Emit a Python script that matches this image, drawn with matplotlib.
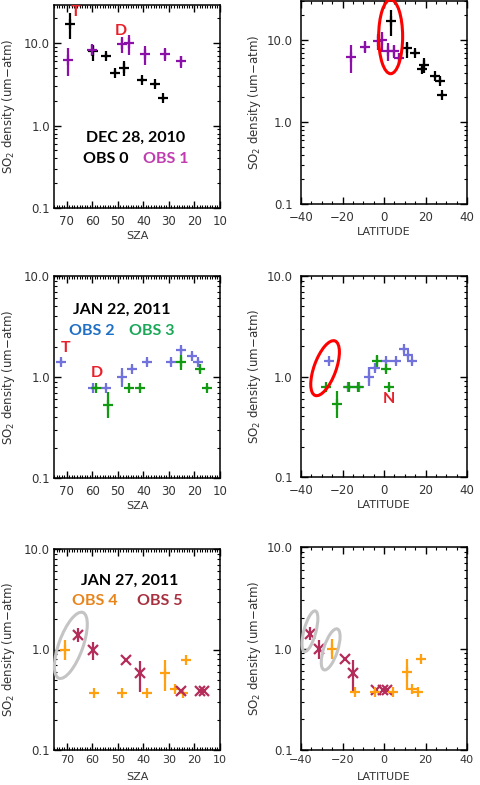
import numpy as np
import matplotlib.pyplot as plt
from matplotlib.patches import Ellipse
from matplotlib.transforms import ScaledTranslation
from matplotlib.ticker import MultipleLocator, FixedLocator, LogLocator, NullFormatter, FormatStrFormatter

# ---- DEC 28, 2010 ----
obs0_sza = [68.9, 59.7, 54.6, 51.1, 47.5, 40.5, 35.6, 32.3]
obs0_lat = [3.4, 11.1, 15.1, 18.4, 19.5, 24.8, 26.9, 28.0]
obs0_so2 = [17.2, 8.0, 7.0, 4.4, 5.0, 3.6, 3.2, 2.15]
obs0_lo = [11.2, 6.0, 6.6, 4.2, 4.0, 3.4, 3.0, 2.05]
obs0_hi = [23.3, 9.6, 7.5, 4.7, 6.0, 3.8, 3.4, 2.25]

obs1_sza = [69.6, 60.0, 48.4, 45.8, 39.5, 31.6, 25.2]
obs1_lat = [-15.8, -9.0, -3.0, -1.0, 1.8, 5.0, 7.0]
obs1_so2 = [6.3, 8.2, 9.8, 10.0, 7.4, 7.4, 6.0]
obs1_lo = [4.0, 7.0, 7.6, 7.2, 5.5, 6.0, 5.0]
obs1_hi = [8.7, 9.8, 12.0, 12.6, 9.1, 8.7, 6.9]

# ---- JAN 22, 2011 ----
obs2_sza = [72.3, 59.7, 54.6, 48.4, 44.4, 38.5, 29.2, 25.2, 21.0, 18.6]
obs2_lat = [-26.7, -17.5, -12.0, -7.1, -4.2, 1.0, 6.0, 9.5, 11.4, 13.5]
obs2_so2 = [1.42, 0.78, 0.78, 1.0, 1.21, 1.42, 1.42, 1.86, 1.63, 1.42]
obs2_lo = [1.34, 0.74, 0.74, 0.80, 1.14, 1.34, 1.34, 1.74, 1.54, 1.34]
obs2_hi = [1.50, 0.82, 0.82, 1.24, 1.28, 1.50, 1.50, 1.98, 1.72, 1.50]

obs3_sza = [58.6, 53.7, 45.8, 41.4, 25.2, 18.0, 14.9]
obs3_lat = [-27.9, -22.7, -17.1, -12.7, -3.4, 1.0, 2.3]
obs3_so2 = [0.78, 0.53, 0.78, 0.78, 1.42, 1.19, 0.78]
obs3_lo = [0.74, 0.39, 0.74, 0.74, 1.18, 1.12, 0.74]
obs3_hi = [0.82, 0.71, 0.82, 0.82, 1.65, 1.26, 0.82]

# ---- JAN 27, 2011 ----
obs4_sza = [70.7, 59.4, 48.4, 38.5, 31.6, 27.6, 24.6, 23.2]
obs4_lat = [-25.1, -13.8, -4.2, 4.3, 11.1, 13.5, 16.3, 17.6]
obs4_so2 = [1.0, 0.37, 0.37, 0.37, 0.59, 0.40, 0.37, 0.79]
obs4_lo = [0.79, 0.37, 0.37, 0.37, 0.39, 0.40, 0.37, 0.79]
obs4_hi = [1.24, 0.37, 0.37, 0.37, 0.78, 0.40, 0.37, 0.79]

obs5_sza = [65.6, 59.7, 46.7, 41.4, 25.2, 18.0, 16.2]
obs5_lat = [-35.9, -31.1, -18.7, -14.7, -3.7, -0.5, 1.4]
obs5_so2 = [1.40, 1.0, 0.79, 0.58, 0.39, 0.39, 0.39]
obs5_lo = [1.20, 0.79, 0.79, 0.38, 0.39, 0.39, 0.39]
obs5_hi = [1.62, 1.20, 0.79, 0.77, 0.39, 0.39, 0.39]

c_black = 'black'
c_purple = '#8a10a8'
c_blue = '#7272dc'
c_green = '#129a12'
c_orange = '#ffa010'
c_maroon = '#b42c5a'

fig = plt.figure(figsize=(4.8, 7.85), dpi=100)


def px_rect(l, t, r, b):
    return [l / 480, 1 - b / 785, (r - l) / 480, (b - t) / 785]


def setup(ax, kind, ytop):
    ax.set_yscale('log')
    ax.set_ylim(0.1, ytop)
    if kind == 'sza':
        ax.set_xlim(75, 10)
        ax.xaxis.set_major_locator(MultipleLocator(10))
        ax.xaxis.set_minor_locator(MultipleLocator(1))
        ax.set_xlabel('SZA', color='#333333', fontsize=8)
    else:
        ax.set_xlim(-40, 40)
        ax.xaxis.set_major_locator(MultipleLocator(20))
        ax.xaxis.set_minor_locator(MultipleLocator(5))
        ax.set_xlabel('LATITUDE', color='#333333', fontsize=8)
    ax.yaxis.set_major_locator(FixedLocator([0.1, 1.0, 10.0]))
    ax.yaxis.set_major_formatter(FormatStrFormatter('%.1f'))
    ax.yaxis.set_minor_locator(LogLocator(base=10, subs=np.arange(2, 10)))
    ax.yaxis.set_minor_formatter(NullFormatter())
    ax.tick_params(which='both', direction='in', top=True, right=True,
                   colors='black', labelcolor='#333333', labelsize=8.5)
    ax.tick_params(which='major', length=5, width=1.0)
    ax.tick_params(which='minor', length=2.5, width=0.8)
    ax.tick_params(axis='x', pad=5)
    ax.tick_params(axis='y', pad=3)
    for s in ax.spines.values():
        s.set_linewidth(1.1)
    ax.set_ylabel(r'SO$_2$ density (um$-$atm)', color='#333333', fontsize=8.5)
    ax.yaxis.set_label_coords(-0.225, 0.5)
    ax.xaxis.set_label_coords(0.5, -0.115)


def plus(ax, x, y, lo, hi, color, marker='+'):
    y = np.array(y)
    yerr = [y - np.array(lo), np.array(hi) - y]
    ax.errorbar(x, y, yerr=yerr, fmt=marker, color=color, ms=7, mew=1.6,
                elinewidth=1.6, capsize=0, clip_on=False)


def ring(ax, x, y, w, h, angle, color):
    tr = fig.dpi_scale_trans + ScaledTranslation(x, y, ax.transData)
    ax.add_patch(Ellipse((0, 0), w, h, angle=angle, transform=tr, fill=False,
                         ec=color, lw=2.2, clip_on=False, zorder=5))


def label(ax, x, y, s, color, size=11.5):
    ax.text(x, y, s, transform=ax.transAxes, color=color, fontsize=size,
            fontweight='bold', family='Lato', ha='center', va='center', clip_on=False)


ax1 = fig.add_axes(px_rect(54, 5, 220, 208))
ax2 = fig.add_axes(px_rect(301, 1, 467, 204))
ax3 = fig.add_axes(px_rect(54, 276, 220, 478))
ax4 = fig.add_axes(px_rect(301, 276, 467, 477))
ax5 = fig.add_axes(px_rect(54, 549, 220, 750))
ax6 = fig.add_axes(px_rect(301, 547, 467, 750))

setup(ax1, 'sza', 29)
setup(ax2, 'lat', 30)
setup(ax3, 'sza', 10)
setup(ax4, 'lat', 10)
setup(ax5, 'sza', 10)
setup(ax6, 'lat', 10)
for ax in (ax2, ax4, ax6):
    ax.yaxis.set_label_coords(-0.23, 0.5)
    ax.tick_params(axis='y', pad=6)
for ax in (ax5, ax6):
    ax.tick_params(axis='x', pad=3.5, labelsize=8)
    ax.xaxis.set_label_coords(0.5, -0.108)

# row 1
plus(ax1, obs0_sza, obs0_so2, obs0_lo, obs0_hi, c_black)
plus(ax1, obs1_sza, obs1_so2, obs1_lo, obs1_hi, c_purple)
plus(ax2, obs1_lat, obs1_so2, obs1_lo, obs1_hi, c_purple)
plus(ax2, obs0_lat, obs0_so2, obs0_lo, obs0_hi, c_black)
label(ax1, 0.494, 0.345, 'DEC 28, 2010', 'black')
label(ax1, 0.313, 0.241, 'OBS 0', 'black')
label(ax1, 0.675, 0.241, 'OBS 1', '#c03cb0')
label(ax1, 0.127, 0.966, 'T', '#e8202a')
label(ax1, 0.404, 0.872, 'D', '#e8202a')
ring(ax2, 3.2, 11.0, 0.24, 0.74, 0, 'red')

# row 2
plus(ax3, obs2_sza, obs2_so2, obs2_lo, obs2_hi, c_blue)
plus(ax3, obs3_sza, obs3_so2, obs3_lo, obs3_hi, c_green)
plus(ax4, obs2_lat, obs2_so2, obs2_lo, obs2_hi, c_blue)
plus(ax4, obs3_lat, obs3_so2, obs3_lo, obs3_hi, c_green)
label(ax3, 0.41, 0.832, 'JAN 22, 2011', 'black')
label(ax3, 0.229, 0.728, 'OBS 2', '#1f6fc4')
label(ax3, 0.59, 0.728, 'OBS 3', '#1aa858')
label(ax3, 0.072, 0.644, 'T', '#e8202a')
label(ax3, 0.259, 0.52, 'D', '#e8202a')
label(ax4, 0.53, 0.388, 'N', '#e8202a')
ring(ax4, -28.4, 1.21, 0.22, 0.58, -20, 'red')

# row 3
plus(ax5, obs4_sza, obs4_so2, obs4_lo, obs4_hi, c_orange)
plus(ax5, obs5_sza, obs5_so2, obs5_lo, obs5_hi, c_maroon, marker='x')
plus(ax6, obs5_lat, obs5_so2, obs5_lo, obs5_hi, c_maroon, marker='x')
plus(ax6, obs4_lat, obs4_so2, obs4_lo, obs4_hi, c_orange)
label(ax5, 0.458, 0.841, 'JAN 27, 2011', 'black')
label(ax5, 0.247, 0.741, 'OBS 4', '#e8841c')
label(ax5, 0.639, 0.741, 'OBS 5', '#a8303e')
ring(ax5, 68.4, 1.1, 0.24, 0.70, -20, '#c4c4c4')
ring(ax6, -35.7, 1.48, 0.12, 0.42, -15, '#c4c4c4')
ring(ax6, -25.7, 0.98, 0.14, 0.43, -18, '#c4c4c4')

fig.savefig('out.png', dpi=100)
